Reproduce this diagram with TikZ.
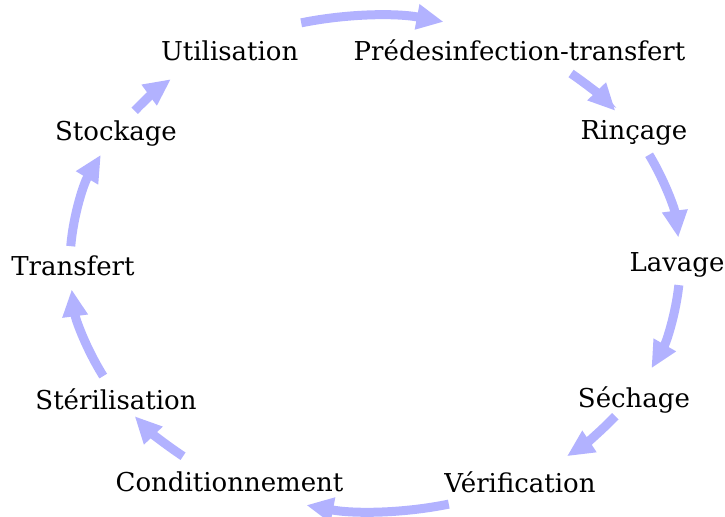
\documentclass[tikz,border=0pt]{standalone}
\usepackage{fontspec}
\setmainfont{DejaVu Serif}
\usetikzlibrary{arrows.meta}
\begin{document}
\begin{tikzpicture}[x=0.5pt,y=0.5pt,
  lab/.style={anchor=base,inner sep=0pt,font=\fontsize{13}{15.5}\selectfont},
  cyc/.style={draw=blue!30,line width=4.5pt,-{Triangle[length=13.5pt,width=12pt]}}]
\useasboundingbox (0,0) rectangle (725,517);
\coordinate (C) at (375,253.5);
\node[lab] (util)  at (229.7,456) {Utilisation};
\node[lab] (pred)  at (519.5,456) {Prédesinfection-transfert};
\node[lab] (rinc)  at (634,377) {Rinçage};
\node[lab] (lav)   at (677,245) {Lavage};
\node[lab] (sech)  at (634,109) {Séchage};
\node[lab] (verif) at (520,24.5) {Vérification};
\node[lab] (cond)  at (229.5,25) {Conditionnement};
\node[lab] (ster)  at (116,107) {Stérilisation};
\node[lab] (trans) at (73,241) {Transfert};
\node[lab] (stock) at (116,376.5) {Stockage};
\foreach \n/\a in {1/104,2/50,3/26,4/-5,5/-38,6/-76,7/-129,8/-153,9/176,10/142}
  \path (C) ++(\a:305 and 248) coordinate (s\n);
\draw[cyc] (s1) arc[start angle=104,end angle=77,x radius=152.5pt,y radius=124pt];
\draw[cyc] (s2) arc[start angle=50,end angle=38,x radius=152.5pt,y radius=124pt];
\draw[cyc] (s3) arc[start angle=26,end angle=6,x radius=152.5pt,y radius=124pt];
\draw[cyc] (s4) arc[start angle=-5,end angle=-25,x radius=152.5pt,y radius=124pt];
\draw[cyc] (s5) arc[start angle=-38,end angle=-51,x radius=152.5pt,y radius=124pt];
\draw[cyc] (s6) arc[start angle=-76,end angle=-103,x radius=152.5pt,y radius=124pt];
\draw[cyc] (s7) arc[start angle=-129,end angle=-142,x radius=152.5pt,y radius=124pt];
\draw[cyc] (s8) arc[start angle=-153,end angle=-174,x radius=152.5pt,y radius=124pt];
\draw[cyc] (s9) arc[start angle=176,end angle=154,x radius=152.5pt,y radius=124pt];
\draw[cyc] (s10) arc[start angle=142,end angle=132,x radius=152.5pt,y radius=124pt];
\end{tikzpicture}
\end{document}
